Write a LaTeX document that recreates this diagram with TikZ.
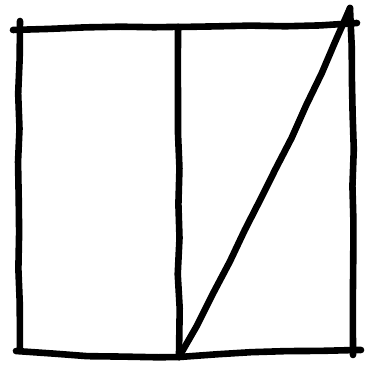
\documentclass[tikz,border=0pt]{standalone}
\usepackage{tikz}
\usetikzlibrary{decorations.pathmorphing}
\usetikzlibrary{calc}
\tikzset{
stroke/.style = {line width=#1, line cap=round, line join=round,
                 decorate, decoration={random steps, segment length=35, amplitude=1.1, pre length=2, post length=2}},
stroke/.default = 6.6
}
\newcommand{\pt}[2]{\coordinate (#1) at (#2);}
\begin{document}
\begin{tikzpicture}[x=1pt,y=-1pt]
        \useasboundingbox (0,0) rectangle (367,374);
        % corners of the square
        \pt{tl}{13,30};
        \pt{tr}{357,23};
        \pt{bl}{16,351};
        \pt{br}{361,350};
        % ends of the left side
        \pt{lt}{20,21};
        \pt{lb}{20,350};
        % ends of the middle line
        \pt{mt}{178,27};
        \pt{mb}{179,357};
        % ends of the diagonal and right side
        \pt{rt}{350,8};
        \pt{rb}{353,355};
        % outline
        \draw[stroke] (tl) to[bend left=2] (mt);
        \draw[stroke] (mt) to[bend right=1] (tr);
        \draw[stroke] (lt) to[bend right=1] (lb);
        \draw[stroke] (rt) to[bend left=1] (rb);
        \draw[stroke] (bl) to[bend right=2] (mb);
        \draw[stroke] (mb) to[bend left=1] (br);
        % inner lines
        \draw[stroke] (mt) -- (mb);
        \draw[stroke] (mb) to[bend right=2] (rt);
        \end{tikzpicture}
\end{document}
